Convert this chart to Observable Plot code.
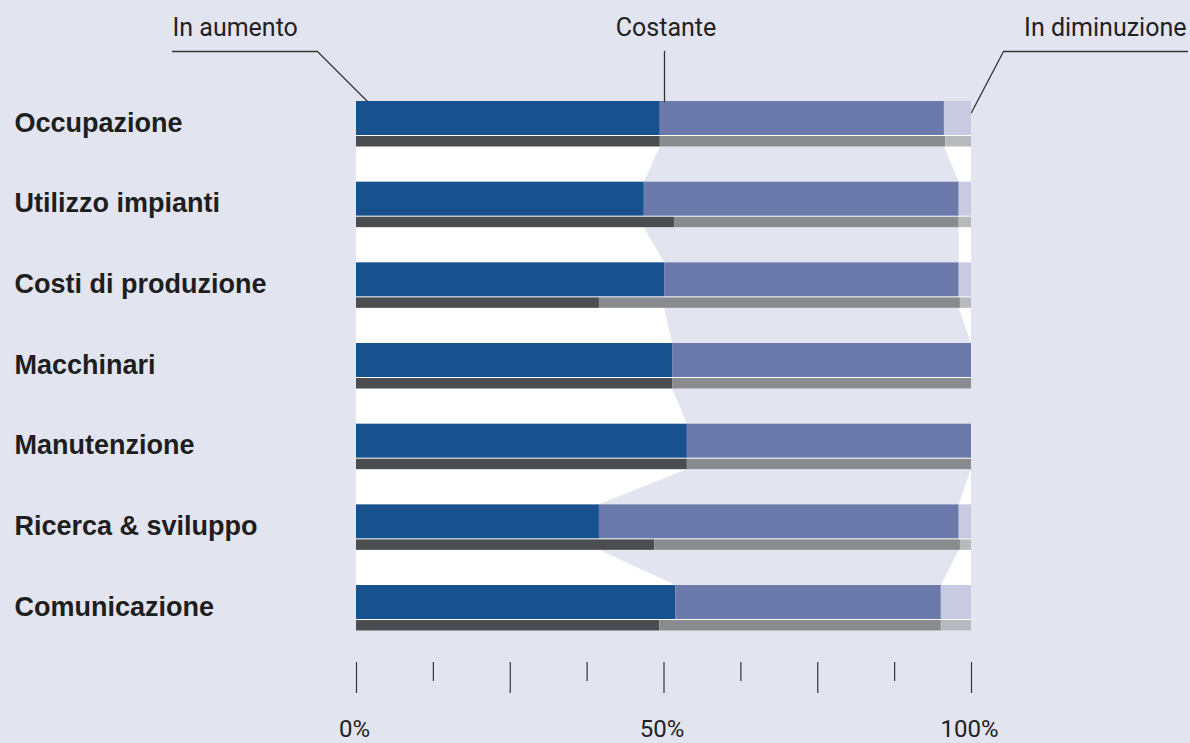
<!DOCTYPE html>
<html>
<head>
<meta charset="utf-8">
<script src="https://cdn.jsdelivr.net/npm/d3@7"></script>
<script src="https://cdn.jsdelivr.net/npm/@observablehq/plot@0.6"></script>
<style>
  html, body { margin: 0; padding: 0; background: #e2e4f0; }
  #chart { width: 1190px; height: 743px; overflow: hidden; }
</style>
</head>
<body>
<div id="chart"></div>
<script>
// ---- data ----
const categories = ["Occupazione", "Utilizzo impianti", "Costi di produzione", "Macchinari", "Manutenzione", "Ricerca & sviluppo", "Comunicazione"];
const series = ["In aumento", "Costante", "In diminuzione"];
// current period (blue bars), %
const aumento      = [49.4, 46.8, 50.1, 51.4, 53.8, 39.5, 51.9];
const costante     = [46.2, 51.2, 47.9, 48.6, 46.2, 58.5, 43.2];
const diminuzione  = [4.4, 2.0, 2.0, 0.0, 0.0, 2.0, 4.9];
// previous period (grey bars), %
const aumentoPrec     = [49.4, 51.7, 39.5, 51.4, 53.8, 48.5, 49.3];
const costantePrec    = [46.4, 46.3, 58.7, 48.6, 46.2, 49.7, 45.8];
const diminuzionePrec = [4.2, 2.0, 1.8, 0.0, 0.0, 1.8, 4.9];
const majorTicks = [0, 25, 50, 75, 100];
const minorTicks = [12.5, 37.5, 62.5, 87.5];
const labelTicks = [0, 50, 100];

// ---- styles / layout ----
const bg = "#e2e4f0";
const blueColors = ["#17528f", "#6c79ab", "#c8cae1"];
const greyColors = ["#4c4d50", "#8a8b8f", "#b9babd"];
const ROW = 80.67;            // px per row
const MT = 101, MB = 81, H = 743, W = 1190;
const u = px => px / ROW;     // px -> row units
const BLUE_H = u(34), GAP = u(1), BAND = u(45.5);
const yMax = (H - MT - MB) / ROW;

function stack(vals) {
  let acc = 0;
  return vals.map(v => { const r = [acc, acc + v]; acc += v; return r; });
}
const rects = [];
categories.forEach((c, i) => {
  stack([aumento[i], costante[i], diminuzione[i]]).forEach(([a, b], k) => {
    if (b > a) rects.push({cat: c, s: series[k], x1: a, x2: b, y1: i, y2: i + BLUE_H, fill: blueColors[k]});
  });
  stack([aumentoPrec[i], costantePrec[i], diminuzionePrec[i]]).forEach(([a, b], k) => {
    if (b > a) rects.push({cat: c, s: series[k], x1: a, x2: b, y1: i + BLUE_H + GAP, y2: i + BAND, fill: greyColors[k]});
  });
});
// connecting bands for the "Costante" share between consecutive rows
const flows = [];
for (let i = 0; i < categories.length - 1; i++) {
  flows.push({k: i, y: i + BAND, a: aumento[i], b: aumento[i] + costante[i]});
  flows.push({k: i, y: i + 1, a: aumento[i + 1], b: aumento[i + 1] + costante[i + 1]});
}
// leader lines for series annotations (x in %, y in row units)
const xs = px => (px - 356) / 6.15;
const leaders = [
  {k: 0, x: xs(172), y: u(51 - MT)}, {k: 0, x: xs(317), y: u(51 - MT)}, {k: 0, x: xs(367), y: 0},
  {k: 1, x: xs(664), y: u(51 - MT)}, {k: 1, x: xs(664), y: 0},
  {k: 2, x: xs(1187), y: u(51 - MT)}, {k: 2, x: xs(1003), y: u(51 - MT)}, {k: 2, x: 100, y: u(112 - MT)}
];
const annY = u(27 - MT);
const annFont = {fontSize: 25, fill: "#222", lineAnchor: "middle", fontFamily: "Roboto, sans-serif"};

const chart = Plot.plot({
  width: W, height: H,
  marginLeft: 356, marginRight: 219, marginTop: MT, marginBottom: MB,
  style: {background: bg, fontFamily: "Roboto, sans-serif", overflow: "visible"},
  x: {domain: [0, 100], axis: null},
  y: {domain: [0, yMax], reverse: true, axis: null},
  marks: [
    Plot.rect([0], {x1: 0, x2: 100, y1: 0, y2: categories.length - 1 + BAND, fill: "white"}),
    Plot.area(flows, {x1: "a", x2: "b", y1: "y", z: "k", fill: bg}),
    Plot.rect(rects, {x1: "x1", x2: "x2", y1: "y1", y2: "y2", fill: "fill"}),
    Plot.text(categories, {
      x: 0, y: (d, i) => i + u(21.5), text: d => d, frameAnchor: "left",
      textAnchor: "start", dx: 14 - 356, lineAnchor: "middle",
      fontSize: 27, fontWeight: 700, fill: "#1e1e20", fontFamily: "'Liberation Sans', Arial, sans-serif"
    }),
    Plot.line(leaders, {x: "x", y: "y", z: "k", stroke: "#333", strokeWidth: 1.3}),
    Plot.text([series[0]], {x: xs(172), y: annY, text: d => d, textAnchor: "start", ...annFont}),
    Plot.text([series[1]], {x: xs(665.5), y: annY, text: d => d, textAnchor: "middle", ...annFont}),
    Plot.text([series[2]], {x: xs(1186), y: annY, text: d => d, textAnchor: "end", ...annFont}),
    Plot.axisX(minorTicks, {tickSize: 19, tickFormat: () => "", stroke: "#333", strokeWidth: 1.2, label: null}),
    Plot.axisX(majorTicks, {tickSize: 31, tickFormat: () => "", stroke: "#333", strokeWidth: 1.2, label: null}),
    Plot.text(labelTicks, {
      x: d => d, text: d => `${d}%`, frameAnchor: "bottom", dy: 74, dx: -2,
      lineAnchor: "bottom", fontSize: 24, fill: "#222", fontFamily: "Roboto, sans-serif"
    })
  ]
});
document.getElementById("chart").appendChild(chart);
</script>
</body>
</html>
